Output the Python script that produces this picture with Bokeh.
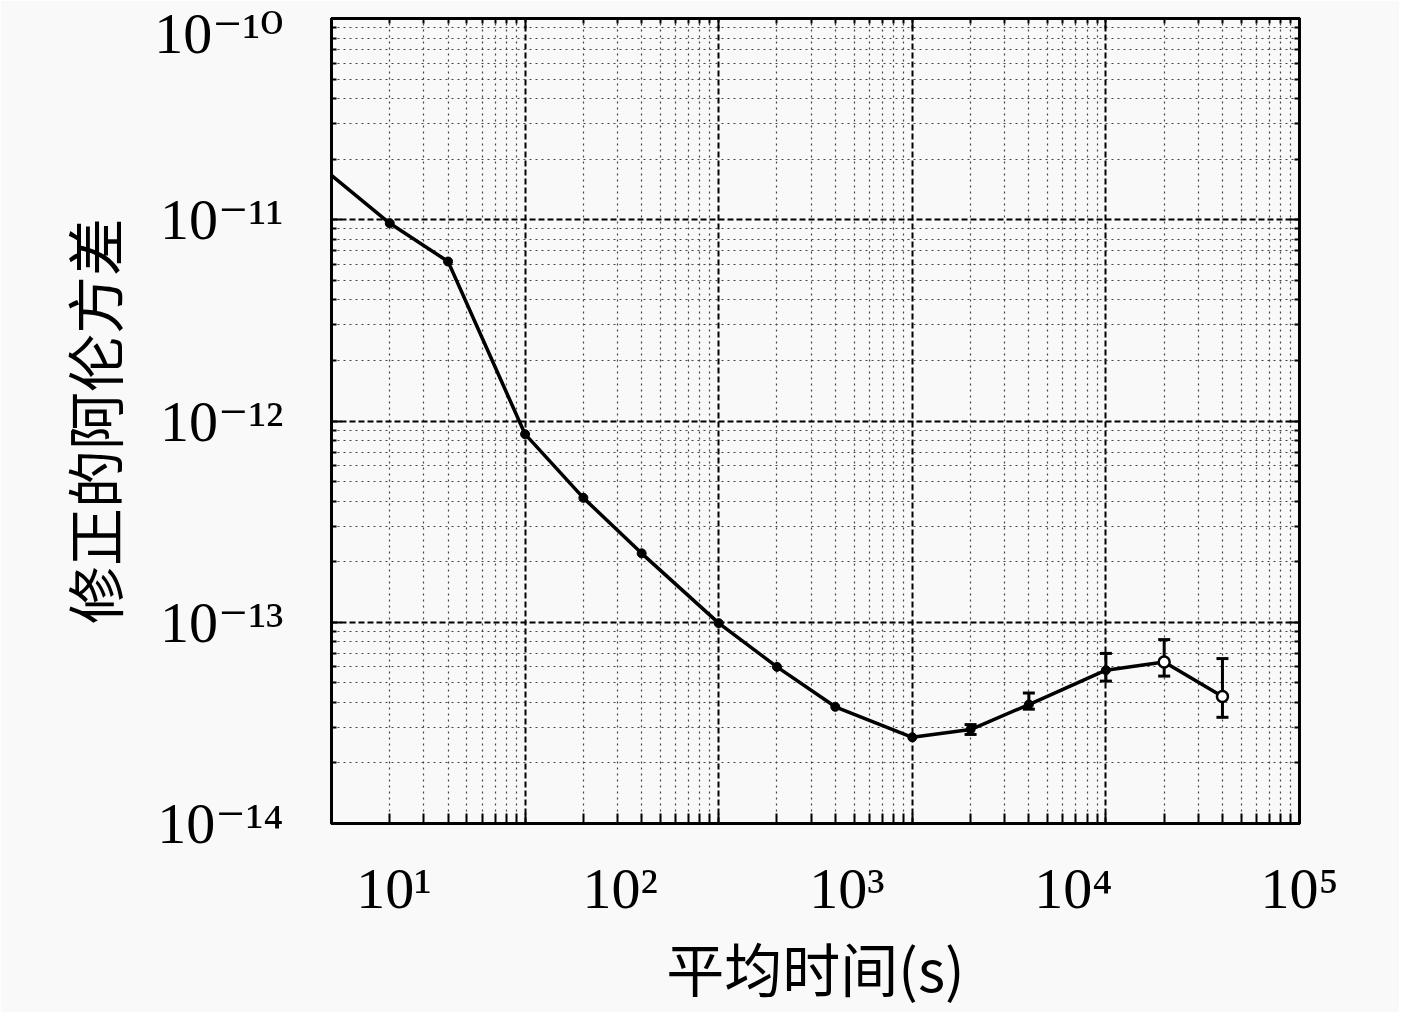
from bokeh.plotting import figure
from bokeh.models import Range1d, FixedTicker, LogAxis, Whisker, TeeHead, ColumnDataSource
from bokeh.embed import file_html
from bokeh.resources import INLINE

# ---- data ----
tau = [1, 2, 4, 10, 20, 40, 100, 200, 400, 1000, 2000, 4000, 10000, 20000, 40000]
adev = [1.66e-11, 9.6e-12, 6.2e-12, 8.6e-13, 4.15e-13, 2.2e-13, 9.9e-14, 6.0e-14,
        3.8e-14, 2.68e-14, 2.93e-14, 3.9e-14, 5.78e-14, 6.35e-14, 4.28e-14]
err_tau = [2000, 4000, 10000, 20000, 40000]
err_upper = [3.1e-14, 4.45e-14, 7.0e-14, 8.2e-14, 6.6e-14]
err_lower = [2.77e-14, 3.7e-14, 5.1e-14, 5.4e-14, 3.37e-14]

x_decades = [1, 10, 100, 1000, 10000, 100000]
y_decades = [1e-14, 1e-13, 1e-12, 1e-11, 1e-10]
y_tick_labels = ["10\u207b\u00b9\u2074", "10\u207b\u00b9\u00b3", "10\u207b\u00b9\u00b2",
                 "10\u207b\u00b9\u00b9", "10\u207b\u00b9\u2070"]
# x tick labels as they sit in the original figure
x_label_pos = [2.1, 31, 460, 6800, 100000]
x_tick_labels = ["10\u00b9", "10\u00b2", "10\u00b3", "10\u2074", "10\u2075"]

x_title = "平均时间(s)"
y_title = "修正的阿伦方差"

mult = [2, 3, 4, 5, 6, 7, 8, 9]
x_minor = [m * d for d in x_decades[:-1] for m in mult]
y_minor = [m * d for d in y_decades[:-1] for m in mult]

BG = "#f9f9f9"
NUM_FONT = "Liberation Serif, DejaVu Serif"
CJK_FONT = "Noto Sans CJK SC"

p = figure(width=1399, height=1012, x_axis_type="log", y_axis_type="log",
           x_range=Range1d(1, 1e5), y_range=Range1d(1e-14, 1e-10),
           output_backend="svg", toolbar_location=None,
           min_border_left=331, min_border_right=100, min_border_top=18,
           min_border_bottom=189, background_fill_color=BG, border_fill_color=BG)
p.outline_line_color = "black"
p.outline_line_width = 3

# bottom axis
xa = p.xaxis[0]
xa.ticker = FixedTicker(ticks=x_label_pos, minor_ticks=x_decades + x_minor)
xa.major_label_overrides = dict(zip(x_label_pos, x_tick_labels))
xa.major_tick_in = 0
xa.major_tick_out = 0
xa.minor_tick_in = 10
xa.minor_tick_out = 0
xa.minor_tick_line_width = 2
xa.axis_line_width = 3
xa.major_label_text_font = NUM_FONT
xa.major_label_text_font_size = "58px"
xa.major_label_text_color = "black"
xa.major_label_standoff = 32
xa.axis_label = x_title
xa.axis_label_text_font = CJK_FONT
xa.axis_label_text_font_size = "58px"
xa.axis_label_text_font_style = "normal"
xa.axis_label_text_color = "black"
xa.axis_label_standoff = 1

# left axis
ya = p.yaxis[0]
ya.ticker = FixedTicker(ticks=y_decades, minor_ticks=y_minor)
ya.major_label_overrides = dict(zip(y_decades, y_tick_labels))
ya.major_tick_in = 10
ya.major_tick_out = 0
ya.minor_tick_in = 5
ya.minor_tick_out = 0
ya.major_tick_line_width = 2
ya.minor_tick_line_width = 2
ya.axis_line_width = 3
ya.major_label_text_font = NUM_FONT
ya.major_label_text_font_size = "58px"
ya.major_label_text_color = "black"
ya.major_label_standoff = 48
ya.axis_label = y_title
ya.axis_label_text_font = CJK_FONT
ya.axis_label_text_font_size = "58px"
ya.axis_label_text_font_style = "normal"
ya.axis_label_text_color = "black"
ya.axis_label_standoff = 16

# mirrored axes (ticks only, empty labels)
top = LogAxis(ticker=FixedTicker(ticks=x_decades, minor_ticks=x_minor),
              major_label_overrides={t: "" for t in x_decades}, major_label_standoff=0,
              major_tick_in=10, major_tick_out=0, minor_tick_in=5, minor_tick_out=0,
              major_tick_line_width=2, minor_tick_line_width=2, axis_line_width=3)
right = LogAxis(ticker=FixedTicker(ticks=y_decades, minor_ticks=y_minor),
                major_label_overrides={t: "" for t in y_decades}, major_label_standoff=0,
                major_tick_in=10, major_tick_out=0, minor_tick_in=5, minor_tick_out=0,
                major_tick_line_width=2, minor_tick_line_width=2, axis_line_width=3)
p.add_layout(top, "above")
p.add_layout(right, "right")

# grids
p.xgrid[0].ticker = FixedTicker(ticks=x_decades, minor_ticks=x_minor)
p.ygrid[0].ticker = FixedTicker(ticks=y_decades, minor_ticks=y_minor)
for g in (p.xgrid[0], p.ygrid[0]):
    g.grid_line_color = "black"
    g.grid_line_width = 2
    g.grid_line_dash = "6 3"
    g.minor_grid_line_color = "#444444"
    g.minor_grid_line_width = 1.2
    g.minor_grid_line_dash = "2 4"

# data
p.line(tau, adev, line_color="black", line_width=3.5)
p.scatter(tau[1:13], adev[1:13], size=9, fill_color="black", line_color="black")
p.scatter(tau[13:], adev[13:], size=11, fill_color="white", line_color="black", line_width=2.5)

src = ColumnDataSource(dict(base=err_tau, upper=err_upper, lower=err_lower))
p.add_layout(Whisker(source=src, base="base", upper="upper", lower="lower",
                     dimension="height", line_color="black", line_width=3,
                     upper_head=TeeHead(size=12, line_width=3, line_color="black"),
                     lower_head=TeeHead(size=12, line_width=3, line_color="black")))

open("out.html", "w").write(file_html(p, INLINE))
